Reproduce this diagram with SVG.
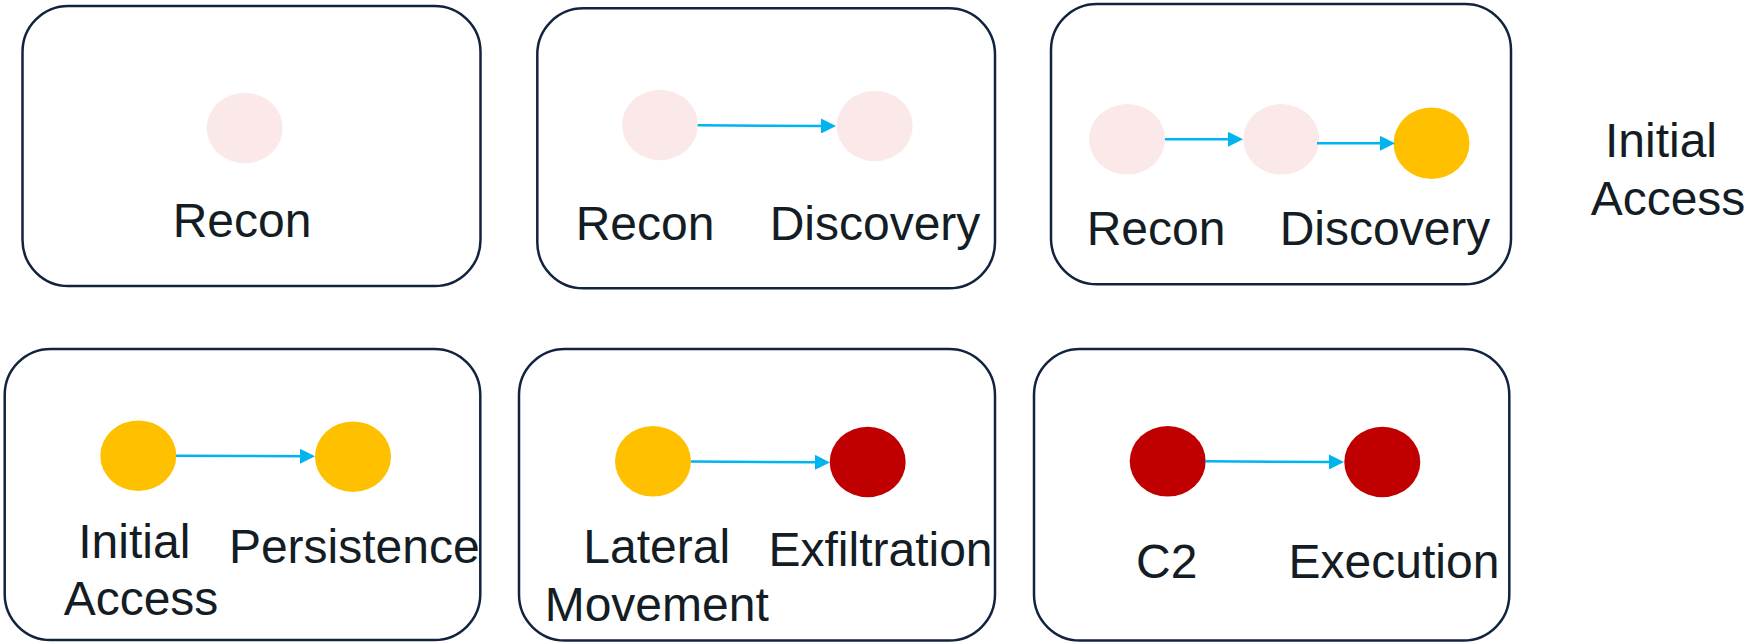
<svg xmlns="http://www.w3.org/2000/svg" width="1760" height="642" viewBox="0 0 1760 642">
  <style>
    .frame { fill: #ffffff; stroke: #12233f; stroke-width: 2.5; }
    .low { fill: #fbe9e9; }
    .mid { fill: #ffc000; }
    .high { fill: #c00000; }
    .lbl { font-family: "Liberation Sans", Arial, sans-serif; font-size: 48px; fill: #141c24; text-anchor: middle; }
    .edge { stroke: #00b4ee; stroke-width: 2.5; fill: none; marker-end: url(#arrow); }
  </style>
  <defs>
    <marker id="arrow" markerUnits="userSpaceOnUse" markerWidth="15" markerHeight="15" refX="3" refY="7.5" orient="auto">
      <path d="M0,0 L15,7.5 L0,15 z" fill="#00b4ee"/>
    </marker>
  </defs>
  <rect width="1760" height="642" fill="#ffffff"/>

  <!-- stage 1 -->
  <g id="stage1">
    <rect class="frame" x="22.5" y="6" width="458" height="280" rx="46"/>
    <ellipse class="low" cx="244.7" cy="128" rx="38" ry="35.3"/>
    <text class="lbl" x="242" y="237">Recon</text>
  </g>

  <!-- stage 2 -->
  <g id="stage2">
    <rect class="frame" x="537.3" y="8.3" width="457.7" height="280" rx="46"/>
    <ellipse class="low" cx="660" cy="125" rx="38" ry="35.3"/>
    <ellipse class="low" cx="874.7" cy="126" rx="38" ry="35.3"/>
    <text class="lbl" x="645" y="240">Recon</text>
    <text class="lbl" x="875" y="240">Discovery</text>
  </g>

  <!-- stage 3 -->
  <g id="stage3">
    <rect class="frame" x="1051" y="4" width="460" height="280.3" rx="46"/>
    <ellipse class="low" cx="1127" cy="139.3" rx="38" ry="35.3"/>
    <ellipse class="low" cx="1281.3" cy="139.3" rx="38" ry="35.3"/>
    <ellipse class="mid" cx="1431.5" cy="143.3" rx="38" ry="35.7"/>
    <text class="lbl" x="1156" y="245">Recon</text>
    <text class="lbl" x="1385" y="245">Discovery</text>
  </g>

  <!-- next stage caption -->
  <g id="next-stage">
    <text class="lbl" x="1661" y="157">Initial</text>
    <text class="lbl" x="1668" y="215">Access</text>
  </g>

  <!-- stage 4 -->
  <g id="stage4">
    <rect class="frame" x="4.7" y="349" width="475.6" height="291" rx="46"/>
    <ellipse class="mid" cx="138.3" cy="455.7" rx="38" ry="35.3"/>
    <ellipse class="mid" cx="353" cy="456.7" rx="38" ry="35.3"/>
    <text class="lbl" x="134.3" y="558">Initial</text>
    <text class="lbl" x="141" y="615">Access</text>
    <text class="lbl" x="354.3" y="563">Persistence</text>
  </g>

  <!-- stage 5 -->
  <g id="stage5">
    <rect class="frame" x="519" y="349" width="476" height="291.5" rx="46"/>
    <ellipse class="mid" cx="653" cy="461.3" rx="38" ry="35.3"/>
    <ellipse class="high" cx="867.7" cy="462" rx="38" ry="35.3"/>
    <text class="lbl" x="656.7" y="563">Lateral</text>
    <text class="lbl" x="656.7" y="621">Movement</text>
    <text class="lbl" x="880.5" y="565.5">Exfiltration</text>
  </g>

  <!-- stage 6 -->
  <g id="stage6">
    <rect class="frame" x="1034" y="349" width="475.3" height="291.5" rx="46"/>
    <ellipse class="high" cx="1167.7" cy="461.3" rx="38" ry="35.3"/>
    <ellipse class="high" cx="1382.3" cy="462" rx="38" ry="35.3"/>
    <text class="lbl" x="1166.7" y="578">C2</text>
    <text class="lbl" x="1394" y="578">Execution</text>
  </g>

  <!-- transitions -->
  <g id="connectors">
    <line class="edge" x1="697.7" y1="125.3" x2="824" y2="126"/>
    <line class="edge" x1="1165" y1="139.3" x2="1231" y2="139.3"/>
    <line class="edge" x1="1317" y1="143.3" x2="1383" y2="143.3"/>
    <line class="edge" x1="176" y1="455.7" x2="303" y2="456.3"/>
    <line class="edge" x1="691" y1="461.5" x2="818" y2="462.3"/>
    <line class="edge" x1="1205.3" y1="461.3" x2="1332" y2="462"/>
  </g>
</svg>
